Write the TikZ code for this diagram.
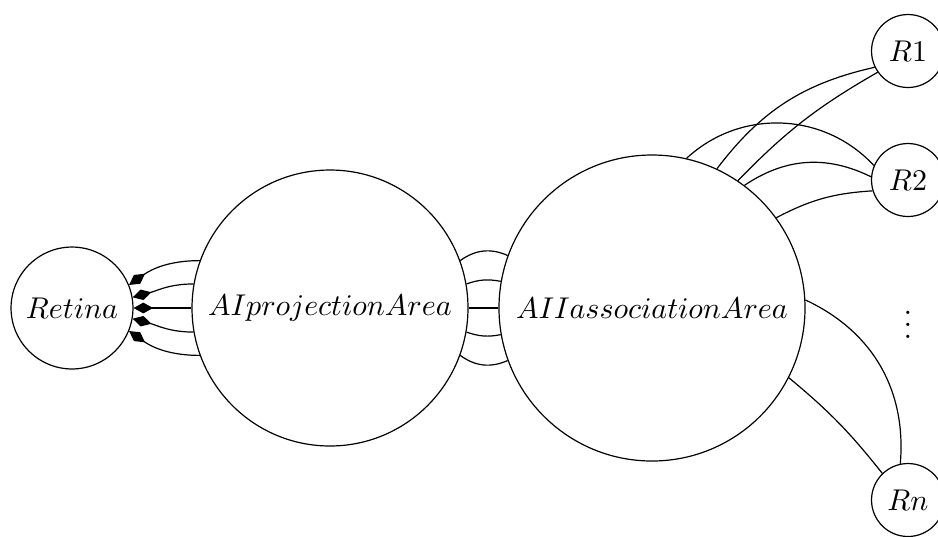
\documentclass[tikz,border=0pt]{standalone}
\usetikzlibrary{arrows.meta}
\begin{document}
\begin{tikzpicture}[x=0.333pt,y=-0.333pt,
  blob/.style={draw,circle,inner sep=0pt,font=\fontsize{10.3}{12}\selectfont},
  dtip/.style={{Diamond[length=6.5pt,width=3.6pt]}-}]
\useasboundingbox (0,0) rectangle (938,536);
\node[blob,minimum size=40.6pt] (ret) at (72,308) {$Retina$};
\node[blob,minimum size=91.9pt] (ai) at (330,308) {$AIprojectionArea$};
\node[blob,minimum size=101.9pt] (aii) at (652,308) {$AIIassociationArea$};
\node[blob,minimum size=24.3pt] (r1) at (908,51) {$R1$};
\node[blob,minimum size=24.3pt] (r2) at (908,180) {$R2$};
\node[blob,minimum size=24.3pt] (rn) at (908,500) {$Rn$};
\node[inner sep=0pt,font=\fontsize{10.3}{12}\selectfont] (dots) at (908,316) {$\vdots$};
% Retina - AI
\draw[dtip] (ret.22) to[out=35,in=180] (ai.160);
\draw[dtip] (ret.10) to[out=15,in=180] (ai.170);
\draw[dtip] (ret.0) -- (ai.180);
\draw[dtip] (ret.-10) to[out=-15,in=180] (ai.190);
\draw[dtip] (ret.-22) to[out=-35,in=180] (ai.200);
% AI - AII
\draw (ai.20) to[bend left=30] (aii.160);
\draw (ai.10) to[bend left=15] (aii.170);
\draw (ai.0) -- (aii.180);
\draw (ai.-10) to[bend right=15] (aii.190);
\draw (ai.-20) to[bend right=30] (aii.200);
% AII - R
\draw (aii.77) to[bend left=45] (r2.157);
\draw (aii.65) to[bend left=20] (r1.206);
\draw (aii.56) to[bend left=8] (r1.215);
\draw (aii.53) to[bend left=30] (r2.175);
\draw (aii.36) to[bend left=12] (r2.197);
\draw (aii.3) to[bend left=35] (rn.102);
\draw (aii.-27) to[bend left=6] (rn.134);
\end{tikzpicture}
\end{document}
